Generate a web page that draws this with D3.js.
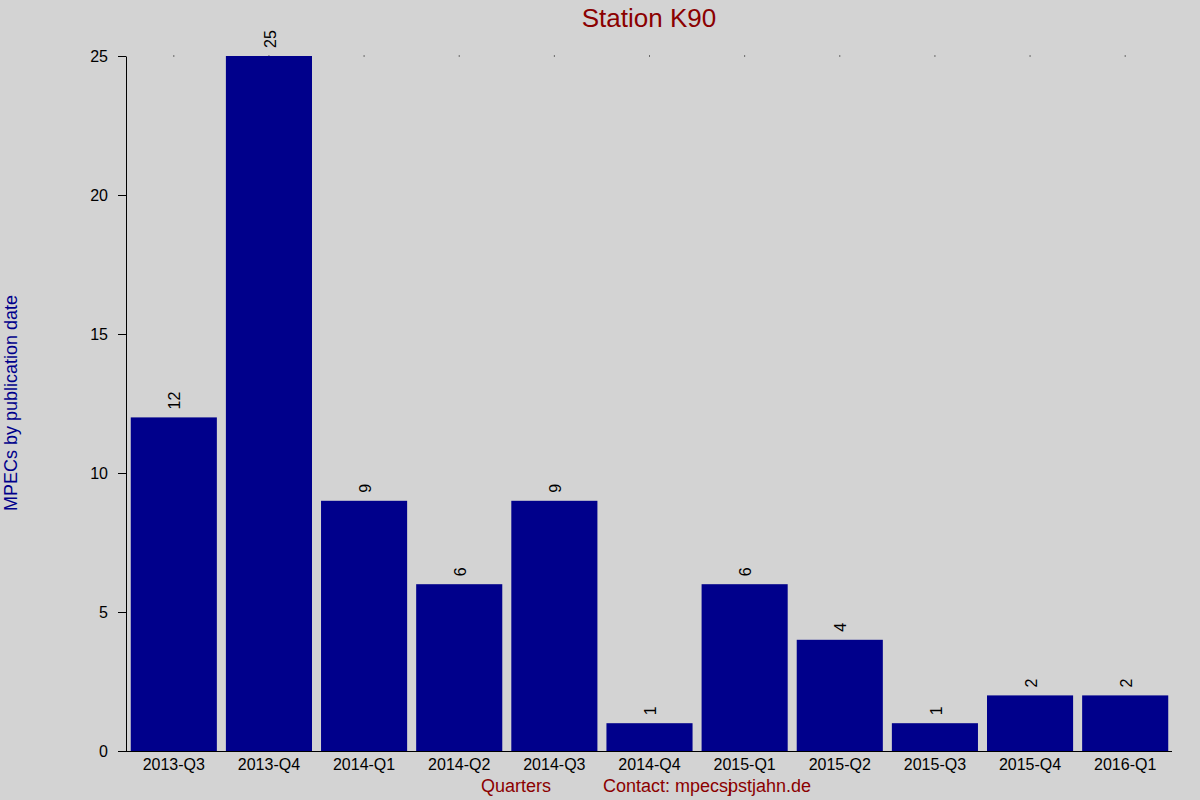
<!DOCTYPE html>
<html>
<head>
<meta charset="utf-8">
<script src="https://cdn.jsdelivr.net/npm/d3@7"></script>
<style>
  body { margin: 0; background: #d3d3d3; }
  svg { display: block; font-family: "Liberation Sans", Arial, sans-serif; }
</style>
</head>
<body>
<svg width="1200" height="800"></svg>
<script>
var quarters = ["2013-Q3", "2013-Q4", "2014-Q1", "2014-Q2", "2014-Q3", "2014-Q4",
                "2015-Q1", "2015-Q2", "2015-Q3", "2015-Q4", "2016-Q1"];
var counts = [12, 25, 9, 6, 9, 1, 6, 4, 1, 2, 2];
var yTicks = [0, 5, 10, 15, 20, 25];

var svg = d3.select("svg"),
    width = +svg.attr("width"),
    height = +svg.attr("height");

// note: "top" is taken by window.top, so use plot* names
var plotLeft = 126, plotRight = 1173, plotTop = 56, plotBottom = 751;

svg.append("rect")
    .attr("width", width)
    .attr("height", height)
    .attr("fill", "#d3d3d3");

var x = d3.scaleBand()
    .domain(quarters)
    .range([plotLeft, plotRight])
    .paddingInner(0.095)
    .paddingOuter(0.05);

var y = d3.scaleLinear()
    .domain([0, 25])
    .range([plotBottom, plotTop]);

// little dots along the top
svg.append("g")
    .selectAll("rect")
    .data(quarters)
    .enter().append("rect")
    .attr("x", function (d) { return x(d) + x.bandwidth() / 2 - 0.5; })
    .attr("y", y(25) - 0.5)
    .attr("width", 1)
    .attr("height", 1)
    .attr("fill", "#000");

var data = quarters.map(function (q, i) { return { q: q, v: counts[i] }; });

svg.append("g")
    .selectAll("rect")
    .data(data)
    .enter().append("rect")
    .attr("x", function (d) { return x(d.q); })
    .attr("y", function (d) { return y(d.v); })
    .attr("width", x.bandwidth())
    .attr("height", function (d) { return y(0) - y(d.v); })
    .attr("fill", "#00008b");

svg.append("g")
    .selectAll("text")
    .data(data)
    .enter().append("text")
    .attr("transform", function (d) {
        return "translate(" + (x(d.q) + x.bandwidth() / 2 + 1) + "," + (y(d.v) - 8) + ") rotate(-90)";
    })
    .attr("dy", "0.35em")
    .attr("text-anchor", "start")
    .attr("font-size", 16)
    .attr("fill", "#000")
    .text(function (d) { return d.v; });

// y axis
var yAxis = svg.append("g")
    .attr("transform", "translate(" + plotLeft + ",0)")
    .call(d3.axisLeft(y).tickValues(yTicks).tickSize(8).tickPadding(10).tickSizeOuter(0));
yAxis.select(".domain").attr("stroke", "#000");
yAxis.selectAll("text").attr("font-size", 16).attr("font-family", "Liberation Sans, Arial, sans-serif").attr("fill", "#000");

// x axis line
svg.append("line")
    .attr("x1", plotLeft - 8)
    .attr("x2", plotRight - 1)
    .attr("y1", plotBottom + 0.5)
    .attr("y2", plotBottom + 0.5)
    .attr("stroke", "#000");

svg.append("g")
    .selectAll("text")
    .data(quarters)
    .enter().append("text")
    .attr("x", function (d) { return x(d) + x.bandwidth() / 2; })
    .attr("y", 770)
    .attr("text-anchor", "middle")
    .attr("font-size", 16)
    .attr("fill", "#000")
    .text(function (d) { return d; });

// titles
svg.append("text")
    .attr("x", 649)
    .attr("y", 27)
    .attr("text-anchor", "middle")
    .attr("font-size", 26)
    .attr("fill", "#8b0000")
    .text("Station K90");

svg.append("text")
    .attr("transform", "translate(17,403) rotate(-90)")
    .attr("text-anchor", "middle")
    .attr("font-size", 18)
    .attr("fill", "#00008b")
    .text("MPECs by publication date");

svg.append("text")
    .attr("x", 481)
    .attr("y", 792)
    .attr("font-size", 18)
    .attr("fill", "#8b0000")
    .text("Quarters");

var contact = svg.append("text")
    .attr("x", 603)
    .attr("y", 792)
    .attr("font-size", 18)
    .attr("fill", "#8b0000");
contact.append("tspan").text("Contact: mpecsj");
contact.append("tspan").attr("dx", -4).text("pstjahn.de");
</script>
</body>
</html>
